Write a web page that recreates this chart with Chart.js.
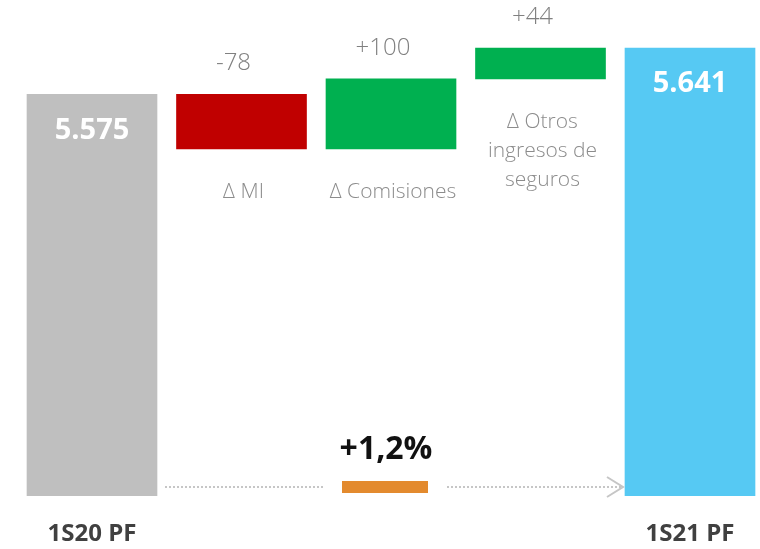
<!DOCTYPE html>
<html>
<head>
<meta charset="utf-8">
<script src="https://cdn.jsdelivr.net/npm/chart.js@4/dist/chart.umd.min.js"></script>
<style>
html,body{margin:0;padding:0;background:#fff;overflow:hidden;}
</style>
</head>
<body>
<canvas id="c" width="760" height="549"></canvas>
<script>
// ---- data ----
const categories = ['1S20 PF', '∆ MI', '∆ Comisiones', '∆ Otros ingresos de seguros', '1S21 PF'];
const categoryLines = [['1S20 PF'], ['∆ MI'], ['∆ Comisiones'], ['∆ Otros', 'ingresos de', 'seguros'], ['1S21 PF']];
const startTotal = 5575;
const deltas = [-78, 100, 44];
const endTotal = 5641;
const barColors = ['#bfbfbf', '#c00000', '#00b050', '#00b050', '#56c9f3'];
const axisMin = 5000;
const axisMax = 5710;

// floating ranges built from the data
const ranges = [];
ranges.push([axisMin, startTotal]);
let run = startTotal;
deltas.forEach(d => { ranges.push([run, run + d]); run += d; });
ranges.push([axisMin, endTotal]);

function fmtThousands(v) {
  return String(v).replace(/\B(?=(\d{3})+(?!\d))/g, '.');
}
function fmtDelta(v) { return (v > 0 ? '+' : '') + v; }
const valueLabels = [fmtThousands(startTotal)].concat(deltas.map(fmtDelta)).concat([fmtThousands(endTotal)]);
const growthPct = (endTotal / startTotal - 1) * 100;
const growthLabel = (growthPct >= 0 ? '+' : '') + growthPct.toFixed(1).replace('.', ',') + '%';

const FONT = '"Open Sans", "Segoe UI", sans-serif';

const labelsPlugin = {
  id: 'wfLabels',
  afterDatasetsDraw(chart) {
    const ctx = chart.ctx;
    const meta = chart.getDatasetMeta(0);
    ctx.save();
    ctx.textAlign = 'center';
    ctx.textBaseline = 'middle';
    meta.data.forEach((bar, i) => {
      const top = Math.min(bar.y, bar.base);
      const bottom = Math.max(bar.y, bar.base);
      const x = bar.x;
      if (i === 0 || i === meta.data.length - 1) {
        ctx.fillStyle = '#ffffff';
        ctx.font = 'bold 29px ' + FONT;
        ctx.fillText(valueLabels[i], x, top + 36);
        ctx.fillStyle = '#404040';
        ctx.font = 'bold 24px ' + FONT;
        ctx.fillText(categoryLines[i][0], x, 534);
      } else {
        ctx.fillStyle = '#808080';
        ctx.font = '300 24px ' + FONT;
        ctx.fillText(valueLabels[i], x - 8, top - 31);
        ctx.fillStyle = '#8c8c8c';
        ctx.font = '300 21px ' + FONT;
        categoryLines[i].forEach((ln, k) => {
          ctx.fillText(ln, x + 2, bottom + 43 + k * 29);
        });
      }
    });

    // growth connector
    const first = meta.data[0], last = meta.data[meta.data.length - 1];
    const yLine = chart.scales.y.getPixelForValue(axisMin) - 9;
    const mid = (first.x + last.x) / 2 - 6;
    const leftStart = first.x + first.width / 2 + 8;
    const rightEnd = last.x - last.width / 2 - 2;
    ctx.strokeStyle = '#c6c6c6';
    ctx.lineWidth = 2;
    ctx.setLineDash([2, 2]);
    ctx.beginPath();
    ctx.moveTo(leftStart, yLine); ctx.lineTo(mid - 62, yLine);
    ctx.moveTo(mid + 62, yLine); ctx.lineTo(rightEnd, yLine);
    ctx.stroke();
    ctx.setLineDash([]);
    ctx.beginPath();
    ctx.moveTo(rightEnd - 16, yLine - 10);
    ctx.lineTo(rightEnd, yLine);
    ctx.lineTo(rightEnd - 16, yLine + 10);
    ctx.stroke();
    ctx.fillStyle = '#e38a2e';
    ctx.fillRect(mid - 43, yLine - 6, 86, 12);
    ctx.fillStyle = '#111111';
    ctx.font = 'bold 32px ' + FONT;
    ctx.fillText(growthLabel, mid + 1, yLine - 37);
    ctx.restore();
  }
};

const W = 760, step = 149.5, firstCenter = 92;
new Chart(document.getElementById('c'), {
  type: 'bar',
  data: {
    datasets: [{
      data: ranges.map((r, i) => ({ x: i, y: r })),
      backgroundColor: barColors,
      borderWidth: 0,
      barThickness: 130
    }]
  },
  options: {
    responsive: false,
    animation: false,
    layout: { padding: { left: 0, right: 0, top: 0, bottom: 53 } },
    plugins: { legend: { display: false }, tooltip: { enabled: false } },
    scales: {
      x: { type: 'linear', display: false, offset: false, bounds: 'data',
           min: -firstCenter / step, max: (W - firstCenter) / step },
      y: { display: false, min: axisMin, max: axisMax }
    }
  },
  plugins: [labelsPlugin]
});
</script>
</body>
</html>
